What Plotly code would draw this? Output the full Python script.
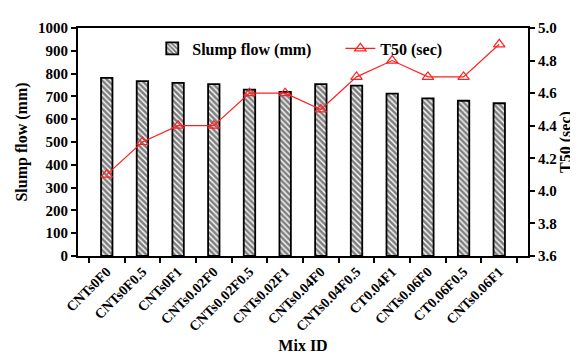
import plotly.graph_objects as go

mix_ids = ["CNTs0F0", "CNTs0F0.5", "CNTs0F1", "CNTs0.02F0", "CNTs0.02F0.5", "CNTs0.02F1",
           "CNTs0.04F0", "CNTs0.04F0.5", "CT0.04F1", "CNTs0.06F0", "CT0.06F0.5", "CNTs0.06F1"]
slump_flow = [781, 767, 759, 754, 730, 720, 754, 747, 712, 691, 681, 670]
t50 = [4.1, 4.3, 4.4, 4.4, 4.6, 4.6, 4.5, 4.7, 4.8, 4.7, 4.7, 4.9]

FONT = "Liberation Serif"

fig = go.Figure()
fig.add_trace(go.Bar(
    x=mix_ids, y=slump_flow, name="<b>Slump flow (mm)</b>" + "&nbsp;" * 6, width=0.32,
    marker=dict(color="white", line=dict(color="black", width=1.8),
                pattern=dict(shape="\\", fgcolor="black", bgcolor="white", size=4, solidity=0.65)),
))
fig.add_trace(go.Scatter(
    x=mix_ids, y=t50, name="<b>T50 (sec)</b>", yaxis="y2", mode="lines+markers",
    line=dict(color="#ff2020", width=1.2),
    marker=dict(symbol="triangle-up-open", size=10, color="#ff2020", line=dict(width=1.2)),
))

fig.update_layout(
    width=578, height=356, margin=dict(l=70, r=58, t=16, b=108),
    paper_bgcolor="white", plot_bgcolor="white",
    font=dict(family=FONT, size=13, color="black"),
    showlegend=True,
    legend=dict(orientation="h", x=0.165, y=0.985, xanchor="left", yanchor="top",
                font=dict(family=FONT, size=16, color="black"), bgcolor="rgba(0,0,0,0)"),
    xaxis=dict(showline=True, linecolor="black", linewidth=2, mirror=True,
               ticks="outside", tickson="boundaries", ticklen=5, tickwidth=1.5, tickcolor="black",
               tickangle=-45, tickfont=dict(family=FONT, size=14),
               tickvals=mix_ids, ticktext=["<b>%s</b>" % m for m in mix_ids],
               title=dict(text="<b>Mix ID</b>", font=dict(family=FONT, size=16), standoff=6)),
    yaxis=dict(range=[0, 1000], dtick=100, showline=True, linecolor="black", linewidth=2,
               ticks="outside", ticklen=5, tickwidth=1.5, tickcolor="black", showgrid=False, zeroline=False,
               tickfont=dict(family=FONT, size=15, weight="bold"),
               title=dict(text="<b>Slump flow (mm)</b>", font=dict(family=FONT, size=16), standoff=6)),
    yaxis2=dict(range=[3.6, 5.0], dtick=0.2, tickformat=".1f", overlaying="y", side="right",
                showline=True, linecolor="black", linewidth=2,
                ticks="outside", ticklen=5, tickwidth=1.5, tickcolor="black", showgrid=False, zeroline=False,
                tickfont=dict(family=FONT, size=15, weight="bold"),
                title=dict(text="<b>T50 (sec)</b>", font=dict(family=FONT, size=16), standoff=2)),
    bargap=0.68,
)

fig.write_html("out.html")
